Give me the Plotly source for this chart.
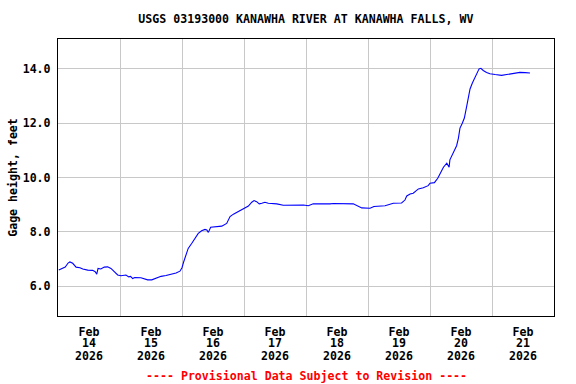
import pandas as pd
import plotly.graph_objects as go

title = "USGS 03193000 KANAWHA RIVER AT KANAWHA FALLS, WV"
footer = "---- Provisional Data Subject to Revision ----"
y_label = "Gage height, feet"

# hours since 2026-02-14 00:00
hours = [0.3, 1.8, 2.8, 3.9, 4.6, 5.7, 7.0, 8.5, 9.6, 11.5, 13.4, 14.4, 15.0, 15.5, 16.6, 17.9,
         19.2, 20.5, 21.8, 23.1, 24.4, 26.3, 27.4, 28.1, 28.9, 29.7, 32.1, 33.4, 34.7, 36.3,
         37.9, 39.9, 41.8, 43.7, 45.7, 47.2, 48.0, 48.6, 49.2, 50.4, 51.8, 53.0, 54.3, 55.6,
         56.9, 57.6, 58.2, 59.1, 61.4, 63.4, 65.3, 66.6, 67.9, 69.2, 70.2, 71.7, 73.7, 75.0,
         75.9, 76.9, 77.9, 78.9, 80.1, 81.4, 84.7, 87.2, 91.1, 95.0, 96.9, 98.8, 105.3, 106.6,
         114.3, 116.2, 117.6, 120.8, 122.3, 126.6, 128.5, 129.8, 133.0, 134.3, 135.0, 136.3,
         137.5, 138.2, 139.5, 141.4, 143.3, 144.0, 145.7, 147.0, 147.9, 149.2, 150.5, 151.1,
         151.4, 151.7, 153.0, 154.3, 155.0, 155.6, 156.5, 157.3, 158.2, 158.8, 159.5, 160.4,
         161.4, 162.3, 163.0, 163.7, 164.6, 165.9, 167.2, 169.2, 171.7, 173.7, 175.6, 176.9,
         178.8, 180.8, 182.3, 182.7]
gage = [6.59, 6.65, 6.70, 6.85, 6.89, 6.84, 6.70, 6.68, 6.63, 6.59, 6.58, 6.53, 6.44, 6.65, 6.63, 6.70,
        6.71, 6.65, 6.51, 6.41, 6.38, 6.41, 6.34, 6.36, 6.28, 6.32, 6.31, 6.28, 6.23, 6.23,
        6.30, 6.36, 6.39, 6.43, 6.48, 6.55, 6.68, 6.88, 7.05, 7.39, 7.58, 7.76, 7.94, 8.04,
        8.09, 8.07, 7.98, 8.17, 8.18, 8.21, 8.31, 8.56, 8.65, 8.72, 8.79, 8.84, 8.95, 9.09,
        9.15, 9.11, 9.03, 9.05, 9.09, 9.05, 9.03, 8.98, 8.98, 8.99, 8.96, 9.03, 9.03, 9.04,
        9.03, 8.96, 8.88, 8.87, 8.93, 8.96, 9.00, 9.05, 9.06, 9.17, 9.32, 9.39,
        9.42, 9.48, 9.58, 9.62, 9.70, 9.79, 9.81, 9.97, 10.16, 10.38, 10.53, 10.43,
        10.38, 10.65, 10.90, 11.17, 11.45, 11.82, 12.00, 12.19, 12.62, 12.99, 13.26, 13.48,
        13.66, 13.82, 14.00, 14.02, 13.94, 13.87, 13.82, 13.79, 13.76, 13.79, 13.82, 13.85,
        13.87, 13.86, 13.87, 13.85]

days = ["2026-02-14", "2026-02-15", "2026-02-16", "2026-02-17", "2026-02-18",
        "2026-02-19", "2026-02-20", "2026-02-21", "2026-02-22"]
month_labels = ["Feb"] * 8
day_numbers = ["14", "15", "16", "17", "18", "19", "20", "21"]
year_labels = ["2026"] * 8
y_ticks = [6.0, 8.0, 10.0, 12.0, 14.0]

start = pd.Timestamp(days[0])
times = [start + pd.Timedelta(hours=h) for h in hours]
midnights = [pd.Timestamp(d) for d in days]
noons = [m + pd.Timedelta(hours=12) for m in midnights[:-1]]

FONT = "DejaVu Sans Mono"
FS = 11.6
tickfont = dict(family=FONT, size=FS, color="black", weight="bold")

fig = go.Figure(go.Scatter(x=times, y=gage, mode="lines",
                           line=dict(color="#0000ff", width=1.1), hoverinfo="skip"))

fig.update_layout(
    width=576, height=384,
    margin=dict(l=58, r=22, t=39, b=68, autoexpand=False),
    paper_bgcolor="white", plot_bgcolor="white",
    showlegend=False,
    font=dict(family=FONT, size=FS, color="black", weight="bold"),
    title=dict(text="<b>" + title + "</b>", x=0.531, xanchor="center", y=0.95, yanchor="middle",
               font=dict(family=FONT, size=FS, color="black")),
    annotations=[dict(text="<b>" + footer + "</b>", xref="paper", yref="paper", x=0.5, y=-0.215,
                      xanchor="center", yanchor="middle", showarrow=False,
                      font=dict(family=FONT, size=FS, color="#ff0000"))],
)

fig.update_xaxes(
    range=[midnights[0], midnights[-1]],
    tickmode="array", tickvals=noons, ticktext=month_labels,
    showgrid=False, ticks="", ticklabelstandoff=5, automargin=False,
    minor=dict(tickmode="array", tickvals=midnights, showgrid=True, gridcolor="#c8c8c8", gridwidth=1, ticks=""),
    showline=True, linecolor="black", linewidth=1.2, mirror=True,
    tickfont=tickfont, zeroline=False,
)
for name, labels, standoff in [("xaxis2", day_numbers, 18), ("xaxis3", year_labels, 31)]:
    fig.update_layout(**{name: dict(
        overlaying="x", matches="x", side="bottom", anchor="y",
        range=[midnights[0], midnights[-1]],
        tickmode="array", tickvals=noons, ticktext=labels,
        showgrid=False, ticks="", ticklabelstandoff=standoff, automargin=False,
        showline=False, zeroline=False, tickfont=tickfont,
    )})
fig.add_trace(go.Scatter(x=[noons[0]], y=[None], xaxis="x2", showlegend=False, hoverinfo="skip"))
fig.add_trace(go.Scatter(x=[noons[0]], y=[None], xaxis="x3", showlegend=False, hoverinfo="skip"))

fig.update_yaxes(
    range=[4.9, 15.1],
    tickmode="array", tickvals=y_ticks, tickformat=".1f",
    showgrid=True, gridcolor="#c8c8c8", gridwidth=1, ticks="", ticklabelstandoff=4, automargin=False,
    showline=True, linecolor="black", linewidth=1.2, mirror=True,
    tickfont=tickfont,
    title=dict(text=y_label, standoff=2, font=dict(family=FONT, size=FS, color="black", weight="bold")),
    zeroline=False,
)

fig.write_html("out.html", config={"displayModeBar": False},
               post_script="document.body.style.margin='0';document.body.style.overflow='hidden';")
